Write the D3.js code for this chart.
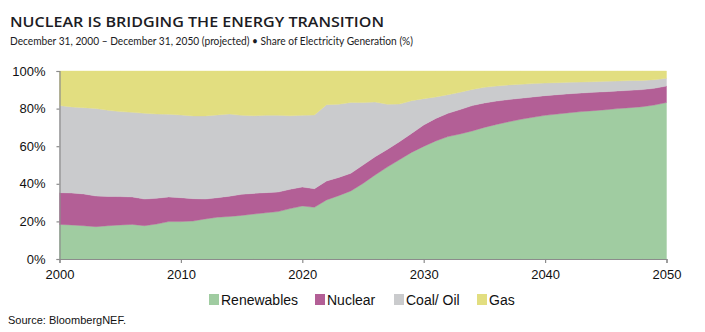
<!DOCTYPE html>
<html>
<head>
<meta charset="utf-8">
<script src="https://cdn.jsdelivr.net/npm/d3@7"></script>
<style>
  html, body { margin: 0; padding: 0; background: #fff; }
  svg { display: block; }
</style>
</head>
<body>
<svg id="chart" width="705" height="332"></svg>
<script>
// ---- Data (share of electricity generation, %) ----
const years = d3.range(2000, 2051);
const renewables = [18.4,18.1,17.7,17.2,17.7,18.1,18.4,17.7,18.6,19.9,19.9,20.2,21.3,22.2,22.6,23.2,23.9,24.6,25.2,26.8,28.2,27.5,31.4,33.7,36.2,40.2,44.7,48.9,52.8,56.7,59.9,62.8,65.1,66.5,68.1,70.0,71.6,73.0,74.3,75.4,76.4,77.1,77.8,78.4,78.9,79.4,80.0,80.5,81.0,81.9,83.2];
const nuclear = [16.9,17.0,16.9,16.3,15.6,15.1,14.6,14.2,13.7,13.1,12.7,11.9,10.6,10.4,10.8,11.2,11.0,10.7,10.4,10.3,10.1,9.9,10.1,9.7,9.4,9.8,9.7,9.4,9.6,10.1,11.4,12.0,12.4,13.0,13.5,13.0,12.4,11.8,11.2,10.8,10.5,10.3,10.1,9.9,9.8,9.6,9.4,9.2,9.1,8.9,8.8];
const coalOil = [46.3,45.8,45.9,46.6,45.8,45.2,45.0,45.6,44.8,44.0,44.0,44.0,44.2,44.0,43.7,42.0,41.3,41.1,40.8,39.1,38.1,39.2,40.6,38.9,37.7,33.2,29.1,24.0,20.0,17.4,14.0,11.4,9.9,9.2,8.6,8.3,8.0,7.8,7.4,7.1,6.7,6.4,6.1,5.8,5.6,5.5,5.3,5.2,4.9,4.6,4.1];
const gas = [18.4,19.1,19.5,19.9,20.9,21.6,22.0,22.5,22.9,23.0,23.4,23.9,23.9,23.4,22.9,23.6,23.8,23.6,23.6,23.8,23.6,23.4,17.9,17.7,16.7,16.8,16.5,17.7,17.6,15.8,14.7,13.8,12.6,11.3,9.8,8.7,8.0,7.4,7.1,6.7,6.4,6.2,6.0,5.9,5.7,5.5,5.3,5.1,5.0,4.6,3.9];

const seriesNames = ["Renewables", "Nuclear", "Coal/ Oil", "Gas"];
const seriesKeys = ["renewables", "nuclear", "coalOil", "gas"];
const seriesColors = ["#a0cca1", "#b35f96", "#cacbcd", "#e2de80"];
const xTicks = [2000, 2010, 2020, 2030, 2040, 2050];
const yTicks = [0, 20, 40, 60, 80, 100];

const title = "NUCLEAR IS BRIDGING THE ENERGY TRANSITION";
const subtitle = "December 31, 2000 \u2013 December 31, 2050 (projected) \u2022 Share of Electricity Generation (%)";
const source = "Source: BloombergNEF.";

// ---- Build table ----
const table = years.map((y, i) => ({
  year: y,
  renewables: renewables[i],
  nuclear: nuclear[i],
  coalOil: coalOil[i],
  gas: gas[i]
}));

const svg = d3.select("#chart");
const margin = { left: 59.5, right: 705 - 666.5, top: 71, bottom: 332 - 259 };
const W = 705, H = 332;

const x = d3.scaleLinear().domain([2000, 2050]).range([margin.left, W - margin.right]);
const y = d3.scaleLinear().domain([0, 100]).range([H - margin.bottom, margin.top]);

const stack = d3.stack().keys(seriesKeys);
const stacked = stack(table);

const area = d3.area()
  .x(d => x(d.data.year))
  .y0(d => y(d[0]))
  .y1(d => y(d[1]))
  .curve(d3.curveLinear);

svg.append("g")
  .selectAll("path")
  .data(stacked)
  .join("path")
  .attr("fill", (d, i) => seriesColors[i])
  .attr("stroke", (d, i) => seriesColors[i])
  .attr("stroke-width", 0.4)
  .attr("d", area);

// ---- Axes ----
const axisColor = "#8c8c8c";
const labelFont = "'Liberation Sans', Arial, sans-serif";

const xAxis = svg.append("g")
  .attr("transform", `translate(0,${y(0)})`)
  .call(d3.axisBottom(x).tickValues(xTicks).tickFormat(d3.format("d")).tickSize(4).tickPadding(7));
xAxis.select(".domain").attr("stroke", axisColor).attr("stroke-width", 1.2);
xAxis.selectAll(".tick line").attr("stroke", axisColor).attr("stroke-width", 1.2);
xAxis.selectAll(".tick text")
  .attr("fill", "#111")
  .style("font-family", labelFont)
  .style("font-size", "13px");

const yAxis = svg.append("g")
  .attr("transform", `translate(${x(2000)},0)`)
  .call(d3.axisLeft(y).tickValues(yTicks).tickFormat(d => d + "%").tickSize(3).tickPadding(11));
yAxis.select(".domain").attr("stroke", axisColor).attr("stroke-width", 1.2);
yAxis.selectAll(".tick line").attr("stroke", axisColor).attr("stroke-width", 1.2);
yAxis.selectAll(".tick text")
  .attr("fill", "#111")
  .style("font-family", labelFont)
  .style("font-size", "13px");

// ---- Title & subtitle ----
svg.append("text")
  .attr("x", 10).attr("y", 27)
  .attr("textLength", 374).attr("lengthAdjust", "spacingAndGlyphs")
  .style("font-family", "'Open Sans', Lato, sans-serif")
  .style("font-weight", 600)
  .style("font-size", "15px")
  .attr("fill", "#1c1c24")
  .text(title);

svg.append("text")
  .attr("x", 10).attr("y", 45)
  .attr("textLength", 403).attr("lengthAdjust", "spacingAndGlyphs")
  .style("font-family", "Lato, 'Open Sans', sans-serif")
  .style("font-size", "12px")
  .attr("fill", "#1c1c24")
  .text(subtitle);

// ---- Legend ----
const legendX = [209, 315, 394, 477];
const legend = svg.append("g");
seriesNames.forEach((name, i) => {
  legend.append("rect")
    .attr("x", legendX[i]).attr("y", 294)
    .attr("width", 10).attr("height", 11)
    .attr("fill", seriesColors[i]);
  legend.append("text")
    .attr("x", legendX[i] + 12).attr("y", 305)
    .style("font-family", labelFont)
    .style("font-size", "14px")
    .attr("fill", "#111")
    .text(name);
});

// ---- Source ----
svg.append("text")
  .attr("x", 8).attr("y", 324)
  .style("font-family", labelFont)
  .style("font-size", "11px")
  .attr("fill", "#111")
  .text(source);
</script>
</body>
</html>
